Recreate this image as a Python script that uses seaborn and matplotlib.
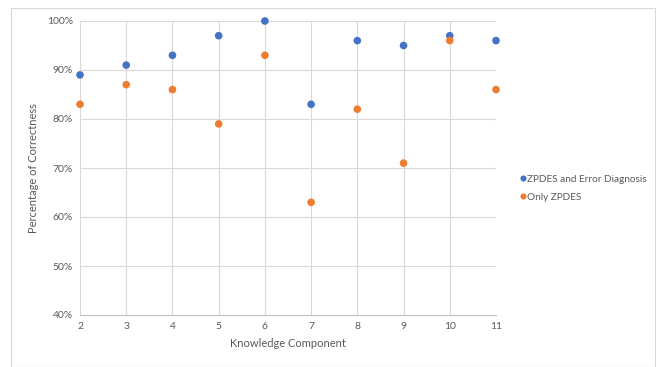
import matplotlib
matplotlib.use("Agg")
import matplotlib.pyplot as plt
import seaborn as sns
import pandas as pd
from matplotlib.ticker import PercentFormatter
from matplotlib.patches import Rectangle

components = [2, 3, 4, 5, 6, 7, 8, 9, 10, 11]
zpdes_error = [89, 91, 93, 97, 100, 83, 96, 95, 97, 96]
only_zpdes = [83, 87, 86, 79, 93, 63, 82, 71, 96, 86]
series_names = ["ZPDES and Error Diagnosis", "Only ZPDES"]
colors = ["#4472C4", "#ED7D31"]

df = pd.DataFrame({
    "Knowledge Component": components * 2,
    "Percentage": zpdes_error + only_zpdes,
    "Series": [series_names[0]] * len(components) + [series_names[1]] * len(components),
})

sns.set_style("white")
plt.rcParams["font.family"] = ["Lato", "DejaVu Sans"]
text_color = "#595959"

fig = plt.figure(figsize=(6.6, 3.67), dpi=100)
ax = fig.add_axes([80 / 660, 1 - 315 / 367, (496 - 80) / 660, (315 - 21) / 367])

sns.scatterplot(data=df, x="Knowledge Component", y="Percentage", hue="Series",
                palette=colors, s=30, edgecolor="none", ax=ax, zorder=3, clip_on=False)

ax.set_xlim(2, 11)
ax.set_ylim(40, 100)
ax.set_xticks(components)
ax.set_yticks(range(40, 101, 10))
ax.yaxis.set_major_formatter(PercentFormatter(decimals=0))
ax.grid(True, color="#D9D9D9", linewidth=0.8)
ax.set_axisbelow(True)
for s in ["top", "right", "left"]:
    ax.spines[s].set_visible(False)
ax.spines["bottom"].set_color("#BFBFBF")
ax.spines["bottom"].set_linewidth(0.8)
ax.tick_params(axis="both", length=0, labelsize=7.5, colors=text_color, pad=5)
ax.set_xlabel("Knowledge Component", fontsize=8, color=text_color, labelpad=5)
ax.set_ylabel("Percentage of Correctness", fontsize=8, color=text_color, labelpad=6)

ax.legend(loc="center left", bbox_to_anchor=(519 / 660, 1 - 188 / 367),
          bbox_transform=fig.transFigure, frameon=False, fontsize=7.2,
          labelcolor=text_color, handletextpad=0.1, markerscale=0.8, labelspacing=0.9,
          handlelength=0.7, borderaxespad=0, borderpad=0)

fig.patches.append(Rectangle((11 / 660, 0), (655 - 11) / 660, 1 - 8 / 367,
                             transform=fig.transFigure, fill=False,
                             edgecolor="#D9D9D9", linewidth=0.8))

fig.savefig("out.png", dpi=100)
